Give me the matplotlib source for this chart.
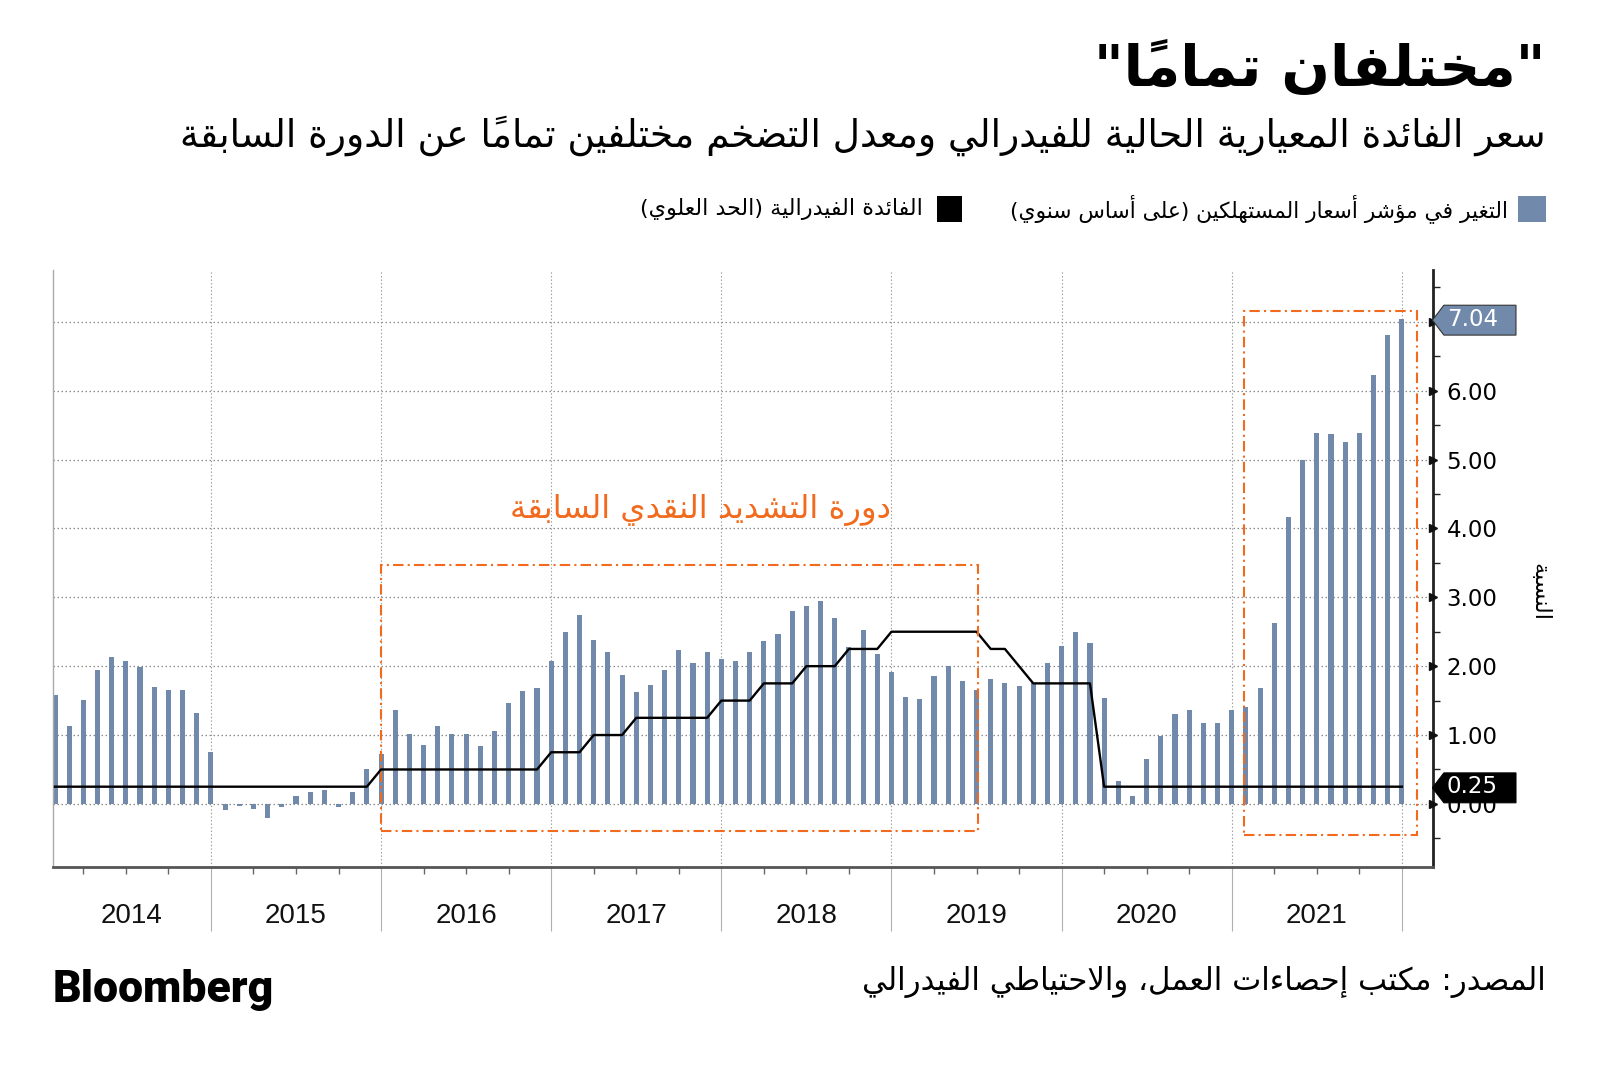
import matplotlib
matplotlib.use("Agg")
import matplotlib.pyplot as plt
import matplotlib.patches as mpatches
import matplotlib.transforms as mtransforms
from matplotlib.path import Path
from matplotlib.ticker import FixedLocator, FormatStrFormatter
import numpy as np

# ---------------- data ----------------
years = ["2014", "2015", "2016", "2017", "2018", "2019", "2020", "2021"]

# التغير في مؤشر أسعار المستهلكين (على أساس سنوي) - شهري
cpi_2014 = [1.58, 1.13, 1.51, 1.95, 2.13, 2.07, 1.99, 1.70, 1.66, 1.66, 1.32, 0.76]
cpi_2015 = [-0.09, -0.03, -0.07, -0.20, -0.04, 0.12, 0.17, 0.20, -0.04, 0.17, 0.50, 0.73]
cpi_2016 = [1.37, 1.02, 0.85, 1.13, 1.02, 1.01, 0.84, 1.06, 1.46, 1.64, 1.69, 2.07]
cpi_2017 = [2.50, 2.74, 2.38, 2.20, 1.87, 1.63, 1.73, 1.94, 2.23, 2.04, 2.20, 2.11]
cpi_2018 = [2.07, 2.21, 2.36, 2.46, 2.80, 2.87, 2.95, 2.70, 2.28, 2.52, 2.18, 1.91]
cpi_2019 = [1.55, 1.52, 1.86, 2.00, 1.79, 1.65, 1.81, 1.75, 1.71, 1.76, 2.05, 2.29]
cpi_2020 = [2.49, 2.33, 1.54, 0.33, 0.12, 0.65, 0.99, 1.31, 1.37, 1.18, 1.17, 1.36]
cpi_2021 = [1.40, 1.68, 2.62, 4.16, 4.99, 5.39, 5.37, 5.25, 5.39, 6.22, 6.81, 7.04]

# الفائدة الفيدرالية (الحد العلوي) - نهاية كل شهر
fed_2014 = [0.25, 0.25, 0.25, 0.25, 0.25, 0.25, 0.25, 0.25, 0.25, 0.25, 0.25, 0.25]
fed_2015 = [0.25, 0.25, 0.25, 0.25, 0.25, 0.25, 0.25, 0.25, 0.25, 0.25, 0.25, 0.50]
fed_2016 = [0.50, 0.50, 0.50, 0.50, 0.50, 0.50, 0.50, 0.50, 0.50, 0.50, 0.50, 0.75]
fed_2017 = [0.75, 0.75, 1.00, 1.00, 1.00, 1.25, 1.25, 1.25, 1.25, 1.25, 1.25, 1.50]
fed_2018 = [1.50, 1.50, 1.75, 1.75, 1.75, 2.00, 2.00, 2.00, 2.25, 2.25, 2.25, 2.50]
fed_2019 = [2.50, 2.50, 2.50, 2.50, 2.50, 2.50, 2.25, 2.25, 2.00, 1.75, 1.75, 1.75]
fed_2020 = [1.75, 1.75, 0.25, 0.25, 0.25, 0.25, 0.25, 0.25, 0.25, 0.25, 0.25, 0.25]
fed_2021 = [0.25, 0.25, 0.25, 0.25, 0.25, 0.25, 0.25, 0.25, 0.25, 0.25, 0.25, 0.25]

y_ticks = [0, 1, 2, 3, 4, 5, 6, 7]

TITLE = "\"مختلفان تماماً\""
SUBTITLE = "سعر الفائدة المعيارية الحالية للفيدرالي ومعدل التضخم مختلفين تماماً عن الدورة السابقة"
LEGEND_CPI = "التغير في مؤشر أسعار المستهلكين (على أساس سنوي)"
LEGEND_FED = "الفائدة الفيدرالية (الحد العلوي)"
BOX_NOTE = "دورة التشديد النقدي السابقة"
Y_LABEL = "النسبة"
SOURCE = "المصدر: مكتب إحصاءات العمل، والاحتياطي الفيدرالي"

cpi_yoy = cpi_2014 + cpi_2015 + cpi_2016 + cpi_2017 + cpi_2018 + cpi_2019 + cpi_2020 + cpi_2021
fed_upper = fed_2014 + fed_2015 + fed_2016 + fed_2017 + fed_2018 + fed_2019 + fed_2020 + fed_2021
months = np.arange(1, len(cpi_yoy) + 1)   # 1 = يناير 2014
year_ends = months[11::12]                 # ديسمبر من كل سنة

BLUE = "#7189ab"
ORANGE = "#f26a1d"

# ---------------- تشكيل النص العربي (matplotlib لا يدعم الربط) ----------------
DUAL = {"ئ": 0xFE89, "ب": 0xFE8F, "ت": 0xFE95, "ث": 0xFE99, "ج": 0xFE9D, "ح": 0xFEA1,
        "خ": 0xFEA5, "س": 0xFEB1, "ش": 0xFEB5, "ص": 0xFEB9, "ض": 0xFEBD, "ط": 0xFEC1,
        "ظ": 0xFEC5, "ع": 0xFEC9, "غ": 0xFECD, "ف": 0xFED1, "ق": 0xFED5, "ك": 0xFED9,
        "ل": 0xFEDD, "م": 0xFEE1, "ن": 0xFEE5, "ه": 0xFEE9, "ي": 0xFEF1}
RIGHT = {"آ": 0xFE81, "أ": 0xFE83, "ؤ": 0xFE85, "إ": 0xFE87, "ا": 0xFE8D, "ة": 0xFE93,
         "د": 0xFEA9, "ذ": 0xFEAB, "ر": 0xFEAD, "ز": 0xFEAF, "و": 0xFEED, "ى": 0xFEEF}
LAM_ALEF = {"آ": 0xFEF5, "أ": 0xFEF7, "إ": 0xFEF9, "ا": 0xFEFB}


def is_mark(c):
    return "\u064b" <= c <= "\u0652"


def ar(text):
    chars = list(text)
    n = len(chars)

    def neighbour(i, step):
        j = i + step
        while 0 <= j < n and is_mark(chars[j]):
            j += step
        return chars[j] if 0 <= j < n else None

    clusters = []
    i = 0
    while i < n:
        c = chars[i]
        if is_mark(c) and clusters:
            clusters[-1] += c
            i += 1
            continue
        prev = neighbour(i, -1)
        nxt = neighbour(i, 1)
        joined_prev = int(prev in DUAL and (c in DUAL or c in RIGHT))
        if c == "ل" and nxt in LAM_ALEF:
            clusters.append(chr(LAM_ALEF[nxt] + joined_prev))
            j = i + 1
            while is_mark(chars[j]):
                j += 1
            i = j + 1
            continue
        joined_next = c in DUAL and (nxt in DUAL or nxt in RIGHT)
        if c in DUAL:
            form = 3 if (joined_prev and joined_next) else 2 if joined_next else joined_prev
            clusters.append(chr(DUAL[c] + form))
        elif c in RIGHT:
            clusters.append(chr(RIGHT[c] + joined_prev))
        elif c == "ء":
            clusters.append("\ufe80")
        else:
            clusters.append(c)
        i += 1
    mirror = {"(": ")", ")": "("}
    return "".join(mirror.get(cl, cl) for cl in reversed(clusters))


AR_FONT = ["DejaVu Sans"]


# شكل البطاقة على المحور الأيمن
def tag_shape(x0, y0, width, height, mutation_size):
    left = x0 - 0.12 * mutation_size
    right = x0 + width + 0.8 * mutation_size
    bottom = y0 - 0.2 * mutation_size
    top = y0 + height + 0.1 * mutation_size
    tip = left - 0.5 * mutation_size
    mid = (bottom + top) / 2
    verts = [(tip, mid), (left, bottom), (right, bottom), (right, top), (left, top), (tip, mid)]
    codes = [Path.MOVETO] + [Path.LINETO] * 4 + [Path.CLOSEPOLY]
    return Path(verts, codes)


# ---------------- الرسم ----------------
fig = plt.figure(figsize=(16, 10.69), dpi=100)
ax = fig.add_axes([0.0332, 0.1887, 0.8622, 0.5583])

ax.bar(months, cpi_yoy, width=0.36, color=BLUE, zorder=2)
ax.plot(months, fed_upper, color="black", lw=1.7, zorder=3)

ax.set_xlim(0.87, 98.17)
ax.set_ylim(-0.92, 7.745)

# المحاور
ax.spines["top"].set_visible(False)
ax.spines["left"].set_color("#aaaaaa")
ax.spines["left"].set_linewidth(1.0)
ax.spines["bottom"].set_color("#555555")
ax.spines["bottom"].set_linewidth(2.0)
ax.spines["right"].set_color("#222222")
ax.spines["right"].set_linewidth(2.0)

ax.yaxis.tick_right()
ax.yaxis.set_major_locator(FixedLocator(y_ticks))
ax.yaxis.set_minor_locator(FixedLocator(np.arange(-0.5, 8, 1.0)))
ax.yaxis.set_major_formatter(FormatStrFormatter("%.2f"))
ax.tick_params(axis="y", which="major", length=0, pad=10, labelsize=16.5, labelcolor="black")
ax.tick_params(axis="y", which="minor", length=5, width=1, color="#222222", right=True, left=False)
for lab in ax.get_yticklabels():
    lab.set_family("DejaVu Sans")

edge_trans = mtransforms.blended_transform_factory(ax.transAxes, ax.transData)
ax.plot(np.ones(len(y_ticks)), y_ticks, ls="none", marker=">", ms=6, color="#111111",
        transform=edge_trans, clip_on=False, zorder=4)

ax.xaxis.set_major_locator(FixedLocator(year_ends))
quarters = [m for m in months if m % 3 == 0 and m % 12 != 0]
ax.xaxis.set_minor_locator(FixedLocator(quarters))
ax.set_xticklabels([])
ax.tick_params(axis="x", which="major", length=46, width=0.8, color="#b0b0b0", direction="out")
ax.tick_params(axis="x", which="minor", length=5, width=1, color="#666666", direction="out")

ax.grid(axis="y", which="major", linestyle=(0, (1.2, 2)), color="#8a8a8a", lw=0.9, zorder=0)
ax.grid(axis="x", which="major", linestyle=(0, (1.2, 2)), color="#9a9a9a", lw=0.8, zorder=0)
ax.set_axisbelow(True)

# تسميات السنوات
x_lo = ax.get_xlim()[0]
edges = [x_lo] + list(year_ends)
year_trans = mtransforms.blended_transform_factory(ax.transData, ax.transAxes)
for k, yr in enumerate(years):
    ax.text((edges[k] + edges[k + 1]) / 2, -0.082, yr, transform=year_trans,
            ha="center", va="center", fontsize=20,
            family=["Liberation Sans Narrow", "Liberation Sans"], color="#111111")

# صناديق الدورات
box_prev = mpatches.Rectangle((24, -0.39), 66.1 - 24, 3.47 + 0.39, fill=False,
                              edgecolor=ORANGE, lw=1.5, linestyle=(0, (5, 2, 1, 2)), zorder=4)
box_now = mpatches.Rectangle((84.9, -0.45), 97.1 - 84.9, 7.15 + 0.45, fill=False,
                             edgecolor=ORANGE, lw=1.5, linestyle=(0, (5, 2, 1, 2)), zorder=4)
ax.add_patch(box_prev)
ax.add_patch(box_now)
ax.text(46.5, 4.27, ar(BOX_NOTE), ha="center", va="center", fontsize=23.2,
        color=ORANGE, family=AR_FONT, zorder=5)

# بطاقات آخر قيمة
tag_trans = mtransforms.offset_copy(edge_trans, fig=fig, x=14, y=0, units="dots")
ax.text(1.0, cpi_yoy[-1], "%.2f" % cpi_yoy[-1], transform=tag_trans, ha="left", va="center",
        fontsize=16.5, color="white", family="DejaVu Sans", clip_on=False, zorder=6,
        bbox=dict(boxstyle=tag_shape, facecolor=BLUE, edgecolor="#333333", lw=0.8))
ax.text(1.0, fed_upper[-1], "%.2f" % fed_upper[-1], transform=tag_trans, ha="left", va="center",
        fontsize=16.5, color="white", family="DejaVu Sans", clip_on=False, zorder=6,
        bbox=dict(boxstyle=tag_shape, facecolor="black", edgecolor="black", lw=0.8))

fig.text(0.962, 0.446, ar(Y_LABEL), rotation=270, ha="center", va="center",
         fontsize=16, family=AR_FONT)

# العناوين
fig.text(0.966, 0.935, ar(TITLE), ha="right", va="center", fontsize=41,
         fontweight="bold", family=AR_FONT)
fig.text(0.966, 0.873, ar(SUBTITLE), ha="right", va="center", fontsize=27, family=AR_FONT)

# وسيلة الإيضاح
fig.patches.append(mpatches.Rectangle((0.9488, 0.7923), 0.0175, 0.0243, transform=fig.transFigure,
                                      facecolor=BLUE, edgecolor="none"))
fig.text(0.9425, 0.8045, ar(LEGEND_CPI), ha="right", va="center", fontsize=15.7, family=AR_FONT)
fig.patches.append(mpatches.Rectangle((0.5856, 0.7923), 0.0156, 0.0243, transform=fig.transFigure,
                                      facecolor="black", edgecolor="none"))
fig.text(0.577, 0.8045, ar(LEGEND_FED), ha="right", va="center", fontsize=16, family=AR_FONT)

# المصدر والشعار
fig.text(0.966, 0.0814, ar(SOURCE), ha="right", va="center", fontsize=22.2, family=AR_FONT)
fig.text(0.033, 0.074, "Bloomberg", ha="left", va="center", fontsize=32,
         fontweight="heavy", family=["Roboto", "Liberation Sans"])

fig.savefig("out.png", dpi=100, facecolor="white")
